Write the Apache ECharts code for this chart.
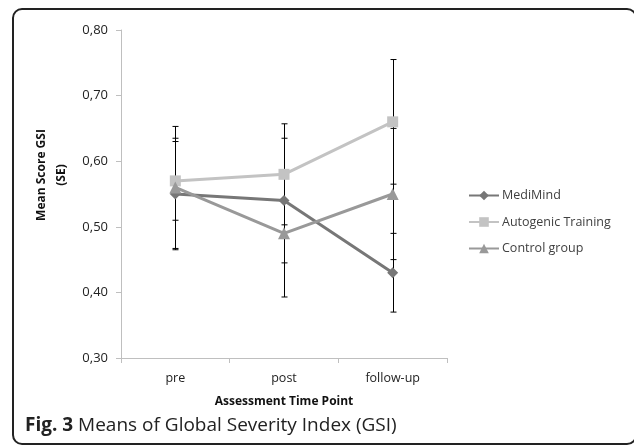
<!DOCTYPE html>
<html>
<head>
<meta charset="utf-8">
<script src="https://cdn.jsdelivr.net/npm/echarts@6/dist/echarts.min.js"></script>
<style>
html, body { margin: 0; padding: 0; background: #fff; }
#main { width: 634px; height: 446px; }
</style>
</head>
<body>
<div id="main"></div>
<script>
var categories = ['pre', 'post', 'follow-up'];
var mediMind = [0.55, 0.54, 0.43];
var mediMindErr = [0.085, 0.095, 0.06];
var autogenic = [0.57, 0.58, 0.66];
var autogenicErr = [0.06, 0.077, 0.095];
var control = [0.56, 0.49, 0.55];
var controlErr = [0.093, 0.097, 0.10];
var seriesNames = ['MediMind', 'Autogenic Training', 'Control group'];

var font = 'Open Sans';
var myChart = echarts.init(document.getElementById('main'));

// error bar data: [category index, low, high]
function barData(vals, errs) {
    var out = [];
    for (var i = 0; i < vals.length; i++) {
        out.push([i, vals[i] - errs[i], vals[i] + errs[i]]);
    }
    return out;
}
var errData = barData(mediMind, mediMindErr)
    .concat(barData(autogenic, autogenicErr))
    .concat(barData(control, controlErr));

function renderErr(params, api) {
    var top = api.coord([api.value(0), api.value(2)]);
    var bot = api.coord([api.value(0), api.value(1)]);
    var x = Math.round(top[0]) + 0.5;
    var st = { stroke: '#000', lineWidth: 1 };
    return {
        type: 'group',
        children: [
            { type: 'line', shape: { x1: x, y1: top[1], x2: x, y2: bot[1] }, style: st },
            { type: 'line', shape: { x1: x - 3, y1: top[1], x2: x + 3, y2: top[1] }, style: st },
            { type: 'line', shape: { x1: x - 3, y1: bot[1], x2: x + 3, y2: bot[1] }, style: st }
        ]
    };
}

var option = {
    animation: false,
    textStyle: { fontFamily: font },
    grid: { left: 121, right: 187, top: 30, bottom: 88 },
    legend: {
        orient: 'vertical',
        left: 463,
        top: 184,
        itemWidth: 30,
        itemHeight: 12,
        itemGap: 13.5,
        textStyle: { fontFamily: font, fontSize: 12.5, color: '#404040', padding: [0, 0, 0, -2] },
        data: seriesNames
    },
    xAxis: {
        type: 'category',
        data: categories,
        boundaryGap: true,
        name: 'Assessment Time Point',
        nameLocation: 'middle',
        nameGap: 38,
        nameTextStyle: { fontFamily: font, fontSize: 12, fontWeight: 'bold', color: '#111' },
        axisLine: { lineStyle: { color: '#bfbfbf', width: 1 } },
        axisTick: { show: true, length: 5, lineStyle: { color: '#bfbfbf' } },
        axisLabel: { fontFamily: font, fontSize: 12.5, color: '#222', margin: 14 }
    },
    yAxis: {
        type: 'value',
        min: 0.3,
        max: 0.8,
        interval: 0.1,
        name: 'Mean Score GSI\n(SE)',
        nameLocation: 'middle',
        nameRotate: 90,
        nameGap: 47,
        nameTextStyle: {
            fontFamily: font, fontSize: 12, fontWeight: 'bold', color: '#111',
            lineHeight: 20, padding: [0, 0, 0, 38]
        },
        splitLine: { show: false },
        axisLine: { show: true, lineStyle: { color: '#bfbfbf', width: 1 } },
        axisTick: { show: true, length: 5, lineStyle: { color: '#bfbfbf' } },
        axisLabel: {
            fontFamily: font, fontSize: 13, color: '#222', margin: 13,
            formatter: function (v) { return v.toFixed(2).replace('.', ','); }
        }
    },
    series: [
        {
            type: 'custom',
            name: 'err',
            renderItem: renderErr,
            data: errData,
            z: 1,
            silent: true
        },
        {
            name: seriesNames[0],
            type: 'line',
            data: mediMind,
            symbol: 'diamond',
            symbolSize: 11,
            color: '#777777',
            lineStyle: { width: 3, color: '#777777' },
            itemStyle: { color: '#777777' },
            z: 3
        },
        {
            name: seriesNames[1],
            type: 'line',
            data: autogenic,
            symbol: 'rect',
            symbolSize: 11,
            color: '#c3c3c3',
            lineStyle: { width: 3, color: '#c3c3c3' },
            itemStyle: { color: '#c3c3c3' },
            z: 3
        },
        {
            name: seriesNames[2],
            type: 'line',
            data: control,
            symbol: 'triangle',
            symbolSize: 12,
            color: '#999999',
            lineStyle: { width: 3, color: '#999999' },
            itemStyle: { color: '#999999' },
            z: 3
        }
    ],
    graphic: [
        {
            type: 'rect',
            shape: { x: 13, y: 9, width: 623, height: 435, r: 9 },
            style: { fill: 'none', stroke: '#222', lineWidth: 2 },
            silent: true
        },
        {
            type: 'text',
            left: 25,
            top: 416,
            style: {
                text: '{b|Fig. 3} Means of Global Severity Index (GSI)',
                rich: {
                    b: { fontFamily: font, fontSize: 19, fontWeight: 'bold', fill: '#222' }
                },
                fontFamily: font,
                fontSize: 19,
                fill: '#222'
            }
        }
    ]
};
myChart.setOption(option);
</script>
</body>
</html>
